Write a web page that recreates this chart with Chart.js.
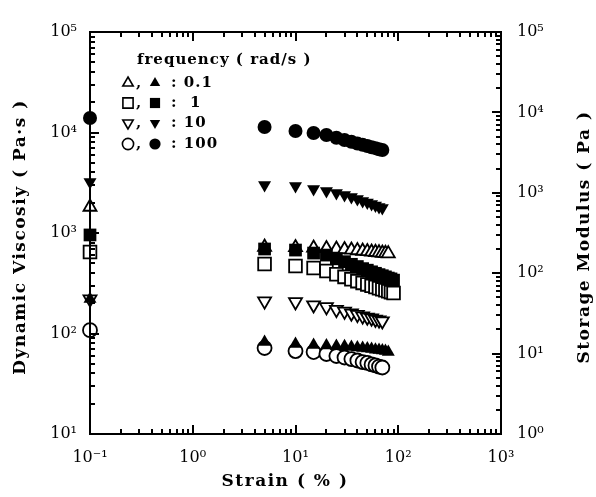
<!DOCTYPE html>
<html>
<head>
<meta charset="utf-8">
<script src="https://cdn.jsdelivr.net/npm/chart.js@4.4.0/dist/chart.umd.min.js"></script>
<style>
  html, body { margin: 0; padding: 0; background: #fff; }
</style>
</head>
<body>
<canvas id="myChart" width="596" height="497"></canvas>
<script>
// strain values (%) - first point of each series sits at 0.1
var strainShort = [0.1, 5, 10, 15, 20, 25, 30, 35, 40, 45, 50, 55, 60, 65, 70];
var strainMid = [0.1, 5, 10, 15, 20, 25, 30, 35, 40, 45, 50, 55, 60, 65, 70, 75, 80];
var strainLong = [0.1, 5, 10, 15, 20, 25, 30, 35, 40, 45, 50, 55, 60, 65, 70, 75, 80, 85, 90];

// dynamic viscosity (Pa.s), open symbols, left axis
var eta01 = [1815, 726, 718, 710, 702, 694, 686, 678, 670, 662, 655, 648, 643, 638, 632, 628, 624];
var eta1 = [647, 492, 470, 449, 419, 388, 366, 347, 332, 319, 308, 298, 290, 282, 275, 269, 263, 258, 253];
var eta10 = [220, 210, 206, 192, 184, 173, 166, 159, 154, 149, 145, 142, 138, 136, 133];
var eta100 = [108, 71.7, 66.9, 65.4, 62.5, 59.7, 57.7, 55.7, 53.9, 52.0, 50.9, 49.2, 48.1, 46.9, 45.9];

// storage modulus (Pa), filled symbols, right axis
var g01 = [47.8, 13.9, 13.2, 12.8, 12.6, 12.4, 12.3, 12.1, 11.9, 11.7, 11.6, 11.4, 11.2, 11.1, 10.9, 10.8, 10.5];
var g1 = [299, 200, 194, 178, 168, 151, 139, 129, 121, 114, 109, 104, 99.7, 96, 93, 90, 87, 85, 82];
var g10 = [1362, 1250, 1215, 1115, 1052, 995, 939, 887, 837, 791, 757, 726, 695, 666, 647];
var g100 = [8510, 6580, 5870, 5550, 5240, 4830, 4540, 4310, 4110, 3950, 3820, 3690, 3590, 3480, 3410];

var freqLabels = ['0.1', ' 1', '10', '100'];
var legendTitle = 'frequency ( rad/s )';
var xTitle = 'Strain ( % )';
var yLeftTitle = 'Dynamic Viscosiy ( Pa\u00b7s )';
var yRightTitle = 'Storage Modulus ( Pa )';

var FONT = "'DejaVu Serif', serif";
var SUP = {'-': '\u207b', '0': '\u2070', '1': '\u00b9', '2': '\u00b2', '3': '\u00b3', '4': '\u2074', '5': '\u2075'};

function isDecade(v) {
    var e = Math.log10(v);
    return Math.abs(e - Math.round(e)) < 1e-6;
}

function decadeLabel(v) {
    if (!isDecade(v)) return '';
    var e = String(Math.round(Math.log10(v)));
    return '10' + e.split('').map(function (c) { return SUP[c]; }).join('');
}

// 1..9 x 10^n tick values between min and max
function tickValues(min, max) {
    var lo = Math.round(Math.log10(min));
    var hi = Math.round(Math.log10(max));
    var out = [];
    for (var e = lo; e < hi; e++) {
        for (var m = 1; m < 10; m++) {
            out.push(parseFloat((m * Math.pow(10, e)).toPrecision(6)));
        }
    }
    out.push(Math.pow(10, hi));
    return out;
}

function pts(xs, ys) {
    return xs.map(function (x, i) { return {x: x, y: ys[i]}; });
}

// symbol styles per frequency
var styles = [
    {pointStyle: 'triangle', rotation: 0, radius: 7.5},
    {pointStyle: 'rect', rotation: 0, radius: 9},
    {pointStyle: 'triangle', rotation: 180, radius: 7.5},
    {pointStyle: 'circle', rotation: 0, radius: 7}
];

function makeSet(label, xs, ys, st, filled, axis) {
    return {
        label: label,
        data: pts(xs, ys),
        yAxisID: axis,
        pointStyle: st.pointStyle,
        rotation: st.rotation,
        pointRadius: st.radius,
        pointHoverRadius: st.radius,
        backgroundColor: filled ? '#000' : '#fff',
        borderColor: '#000',
        borderWidth: filled ? 0 : 1.8,
        showLine: false,
        clip: false
    };
}

// frame, inward tick marks, legend box and axis titles
var framePlugin = {
    id: 'framePlugin',
    afterDraw: function (chart) {
        var ctx = chart.ctx;
        var a = chart.chartArea;
        var xs = chart.scales.x, yl = chart.scales.yL, yr = chart.scales.yR;
        var midY = (a.top + a.bottom) / 2;
        ctx.save();
        ctx.strokeStyle = '#000';
        ctx.lineWidth = 2;
        ctx.strokeRect(a.left, a.top, a.right - a.left, a.bottom - a.top);

        ctx.fillStyle = '#000';
        tickValues(xs.min, xs.max).forEach(function (v) {
            var p = Math.round(xs.getPixelForValue(v));
            var len = isDecade(v) ? 9 : 5;
            ctx.fillRect(p - 1, a.bottom - len, 2, len);
            ctx.fillRect(p - 1, a.top, 2, len);
        });
        tickValues(yl.min, yl.max).forEach(function (v) {
            var p = Math.round(yl.getPixelForValue(v));
            var len = isDecade(v) ? 9 : 5;
            ctx.fillRect(a.left, p - 1, len, 2);
        });
        tickValues(yr.min, yr.max).forEach(function (v) {
            var p = Math.round(yr.getPixelForValue(v));
            var len = isDecade(v) ? 9 : 5;
            ctx.fillRect(a.right - len, p - 1, len, 2);
        });

        // legend
        ctx.letterSpacing = '1px';
        ctx.font = 'bold 15px ' + FONT;
        ctx.textBaseline = 'middle';
        ctx.textAlign = 'left';
        ctx.fillText(legendTitle, 137, 60);
        var rows = [83, 103, 123, 144];
        freqLabels.forEach(function (lab, i) {
            var st = styles[i];
            var y = rows[i];
            var r = st.radius * 0.8;
            ctx.fillStyle = '#fff';
            ctx.strokeStyle = '#000';
            ctx.lineWidth = 1.6;
            Chart.helpers.drawPoint(ctx, {pointStyle: st.pointStyle, rotation: st.rotation, radius: r, borderWidth: 1.6}, 128, y);
            ctx.fillStyle = '#000';
            Chart.helpers.drawPoint(ctx, {pointStyle: st.pointStyle, rotation: st.rotation, radius: r, borderWidth: 0}, 155, y);
            ctx.fillStyle = '#000';
            ctx.fillText(',', 136, y);
            ctx.fillText(': ' + lab, 171, y);
        });

        // axis titles
        ctx.letterSpacing = '1.5px';
        ctx.font = 'bold 17px ' + FONT;
        ctx.textAlign = 'center';
        ctx.fillText(xTitle, 285, 482);

        ctx.save();
        ctx.translate(21, midY + 4);
        ctx.rotate(-Math.PI / 2);
        ctx.fillText(yLeftTitle, 0, 0);
        ctx.restore();

        ctx.translate(585, midY + 4);
        ctx.rotate(-Math.PI / 2);
        ctx.fillText(yRightTitle, 0, 0);
        ctx.restore();
    }
};

function initialize() {
    var ctx = document.getElementById('myChart').getContext('2d');
    var datasets = [
        makeSet('G\' 0.1', strainMid, g01, styles[0], true, 'yR'),
        makeSet('G\' 1', strainLong, g1, styles[1], true, 'yR'),
        makeSet('G\' 10', strainShort, g10, styles[2], true, 'yR'),
        makeSet('G\' 100', strainShort, g100, styles[3], true, 'yR'),
        makeSet('eta 0.1', strainMid, eta01, styles[0], false, 'yL'),
        makeSet('eta 1', strainLong, eta1, styles[1], false, 'yL'),
        makeSet('eta 10', strainShort, eta10, styles[2], false, 'yL'),
        makeSet('eta 100', strainShort, eta100, styles[3], false, 'yL')
    ];

    var tickFont = {family: FONT, size: 16};

    window.myChart = new Chart(ctx, {
        type: 'scatter',
        data: {datasets: datasets},
        options: {
            responsive: false,
            animation: false,
            devicePixelRatio: 1,
            layout: {padding: {top: 32, left: 0, right: 0, bottom: 0}},
            plugins: {
                legend: {display: false},
                tooltip: {enabled: false}
            },
            scales: {
                x: {
                    type: 'logarithmic',
                    position: 'bottom',
                    min: 0.1,
                    max: 1000,
                    grid: {display: false, drawTicks: false},
                    border: {display: false},
                    ticks: {
                        autoSkip: false, maxRotation: 0, padding: 14,
                        color: '#000', font: tickFont,
                        callback: function (v) { return decadeLabel(v); }
                    },
                    afterFit: function (s) { s.height = 63; }
                },
                yL: {
                    type: 'logarithmic',
                    position: 'left',
                    min: 10,
                    max: 100000,
                    grid: {display: false, drawTicks: false},
                    border: {display: false},
                    ticks: {
                        autoSkip: false, padding: 13,
                        color: '#000', font: tickFont,
                        callback: function (v) { return decadeLabel(v); }
                    },
                    afterFit: function (s) { s.width = 90; }
                },
                yR: {
                    type: 'logarithmic',
                    position: 'right',
                    min: 1,
                    max: 100000,
                    grid: {display: false, drawTicks: false},
                    border: {display: false},
                    ticks: {
                        autoSkip: false, padding: 16,
                        color: '#000', font: tickFont,
                        callback: function (v) { return decadeLabel(v); }
                    },
                    afterFit: function (s) { s.width = 95; }
                }
            }
        },
        plugins: [framePlugin]
    });
}

document.addEventListener('DOMContentLoaded', initialize);
</script>
</body>
</html>
